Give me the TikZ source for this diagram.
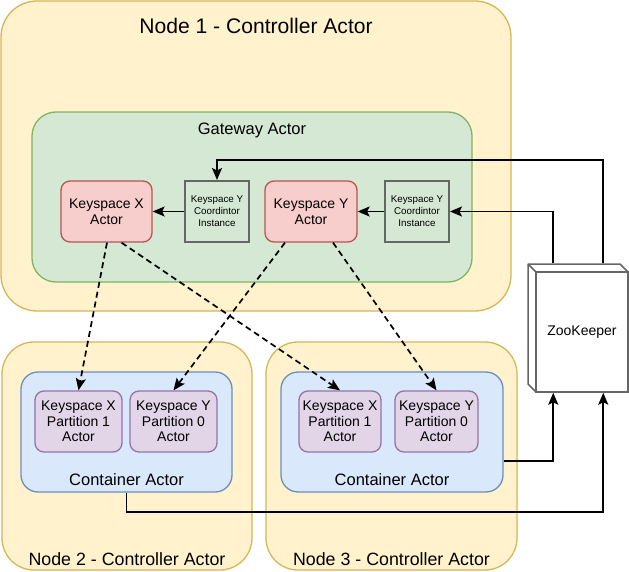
\documentclass[tikz,border=0pt]{standalone}
\usepackage{fontspec}
\setmainfont{Liberation Sans}
\usetikzlibrary{arrows.meta,calc}
\definecolor{ylwF}{HTML}{FFF2CC}\definecolor{ylwD}{HTML}{D6B656}
\definecolor{grnF}{HTML}{D5E8D4}\definecolor{grnD}{HTML}{82B366}
\definecolor{redF}{HTML}{F8CECC}\definecolor{redD}{HTML}{B85450}
\definecolor{bluF}{HTML}{DAE8FC}\definecolor{bluD}{HTML}{6C8EBF}
\definecolor{purF}{HTML}{E1D5E7}\definecolor{purD}{HTML}{9673A6}
\definecolor{gryD}{HTML}{666666}
\tikzset{
  box/.style={rectangle, inner sep=0pt, line width=1.3pt, align=center},
  hostbox/.style={box, fill=ylwF, draw=ylwD, rounded corners=36pt},
  gatebox/.style={box, fill=grnF, draw=grnD, rounded corners=24pt},
  contbox/.style={box, fill=bluF, draw=bluD, rounded corners=17pt},
  ksbox/.style={box, fill=redF, draw=redD, rounded corners=9pt, minimum height=61pt,
    font=\fontsize{14}{16}\selectfont},
  partbox/.style={box, fill=purF, draw=purD, rounded corners=9pt, minimum height=61pt,
    font=\fontsize{14}{15.5}\selectfont},
  coordbox/.style={box, fill=grnF, draw=gryD, line width=2pt, minimum width=64pt,
    minimum height=61pt, font=\fontsize{9.8}{12}\selectfont},
  title/.style={inner sep=0pt, anchor=base},
  arr/.style={line width=1.7pt, -{Stealth[length=12pt,width=10pt,inset=2.5pt]}},
  darr/.style={arr, dash pattern=on 6pt off 4pt},
}
\begin{document}
\begin{tikzpicture}[x=1pt,y=-1pt]
\useasboundingbox (0,0) rectangle (629,572);
% Node 1
\node[hostbox, minimum width=510pt, minimum height=310pt] (n1) at (256,156) {};
\node[title, font=\fontsize{21.1}{24}\selectfont] (n1t) at (256,34) {Node 1 - Controller Actor};
\node[gatebox, minimum width=440pt, minimum height=170pt] (gw) at (252,197) {};
\node[title, font=\fontsize{16.5}{18}\selectfont] (gwt) at (252,135) {Gateway Actor};
\node[ksbox, minimum width=91pt] (kx) at (106.5,211.5) {Keyspace X\\Actor};
\node[coordbox] (c1) at (217,211.5) {Keyspace Y\\Coordintor\\Instance};
\node[ksbox, minimum width=92pt] (ky) at (311,211.5) {Keyspace Y\\Actor};
\node[coordbox] (c2) at (417,211.5) {Keyspace Y\\Coordintor\\Instance};
% Node 2
\node[hostbox, rounded corners=32pt, minimum width=250pt, minimum height=228pt] (n2) at (127,456) {};
\node[title, font=\fontsize{17.8}{21}\selectfont] (n2t) at (127,565) {Node 2 - Controller Actor};
\node[contbox, minimum width=211pt, minimum height=120pt] (ct1) at (126.5,432) {};
\node[title, font=\fontsize{16.5}{18}\selectfont] (ct1t) at (126.5,485) {Container Actor};
\node[partbox, minimum width=87pt] (kxa) at (78.5,421.5) {Keyspace X\\Partition 1\\Actor};
\node[partbox, minimum width=87pt] (kya) at (173.5,421.5) {Keyspace Y\\Partition 0\\Actor};
% Node 3
\node[hostbox, rounded corners=32pt, minimum width=251pt, minimum height=228pt] (n3) at (391.5,456) {};
\node[title, font=\fontsize{17.8}{21}\selectfont] (n3t) at (391.5,565) {Node 3 - Controller Actor};
\node[contbox, minimum width=222pt, minimum height=120pt] (ct2) at (392,432) {};
\node[title, font=\fontsize{16.5}{18}\selectfont] (ct2t) at (392,485) {Container Actor};
\node[partbox, minimum width=82pt] (kxb) at (340,421.5) {Keyspace X\\Partition 1\\Actor};
\node[partbox, minimum width=83pt] (kyb) at (436.5,421.5) {Keyspace Y\\Partition 0\\Actor};
% ZooKeeper cube
\coordinate (zbk) at (528,264);
\fill[white, draw=gryD, line width=1.5pt, line join=round]
  (528,264) -- (620,264) -- (628,272) -- (628,392) -- (536,392) -- (528,384) -- cycle;
\node[box, fill=white, draw=gryD, line width=1.5pt, minimum width=92pt, minimum height=120pt,
  font=\fontsize{14}{16}\selectfont] (zoo) at (582,332) {ZooKeeper};
\draw[gryD, line width=1.5pt] (zbk) -- (zoo.north west);
\coordinate (zA) at ([xshift=18pt,yshift=8pt]zoo.north west);
\coordinate (zB) at ([xshift=68pt,yshift=8pt]zoo.north west);
\coordinate (zC) at ([xshift=18pt]zoo.south west);
\coordinate (zD) at ([xshift=68pt]zoo.south west);
% connectors
\draw[arr] (zB) |- ([yshift=20pt]c1.north) -- (c1.north);
\draw[arr] (zA) |- (c2.east);
\draw[arr] (c1.west) -- (kx.east);
\draw[arr] (c2.west) -- (ky.east);
\draw[arr] (ct1.south) -- ([yshift=-19pt]ct1.south) -| (zD);
\draw[arr] ([yshift=-29pt]ct2.east) -| (zC);
\draw[darr] ([xshift=0.5pt]kx.south) -- (kxa.north);
\draw[darr] ([xshift=15pt]kx.south) -- (kxb.north);
\draw[darr] ([xshift=-26pt]ky.south) -- (kya.north);
\draw[darr] ([xshift=22pt]ky.south) -- (kyb.north);
\end{tikzpicture}
\end{document}
